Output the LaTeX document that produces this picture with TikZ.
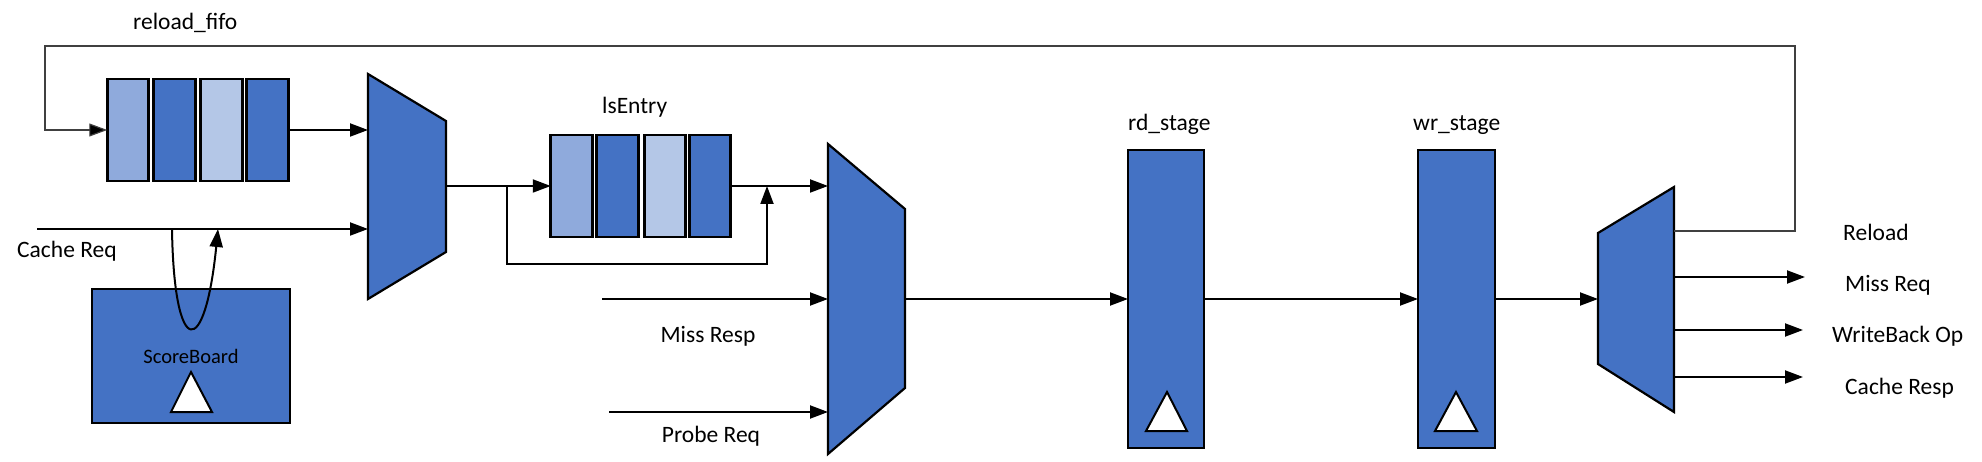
\documentclass[tikz,border=0pt]{standalone}
\usepackage{fontspec}
\setmainfont{Carlito}
\usetikzlibrary{arrows.meta}
\definecolor{dblue}{HTML}{4472C4}
\definecolor{mblue}{HTML}{8FAADC}
\definecolor{lblue}{HTML}{B4C7E7}
\begin{document}
\begin{tikzpicture}[x=1pt,y=-1pt,
  cell/.style={draw=black, line width=2.6pt, minimum width=41.5pt, minimum height=102pt, inner sep=0pt, outer sep=0pt},
  stagebox/.style={draw=black, fill=dblue, line width=2pt, inner sep=0pt, outer sep=0pt},
  wire/.style={draw=black, line width=2pt, -{Triangle[length=18pt,width=13pt]}},
  plainwire/.style={draw=black, line width=2pt},
  fbwire/.style={draw=black!75, line width=1.2pt, -{Triangle[length=18pt,width=13pt,fill=black]}},
  lbl/.style={font=\fontsize{23.5}{28}\selectfont, inner sep=0pt, anchor=base west},
  smalllbl/.style={font=\fontsize{20.5}{24}\selectfont, inner sep=0pt, anchor=base},
  muxshape/.style={fill=dblue, draw=black, line width=2.2pt, line join=miter},
  clk/.style={fill=white, draw=black, line width=2pt, line join=miter}]
\useasboundingbox (0,0) rectangle (1982,462);

% reload fifo cells
\node[cell, fill=mblue] (f1) at (128,130) {};
\node[cell, fill=dblue] (f2) at (174.5,130) {};
\node[cell, fill=lblue] (f3) at (221.5,130) {};
\node[cell, fill=dblue] (f4) at (267.5,130) {};
\node[lbl] (lfifo) at (133,30) {reload\_fifo};

% lsEntry cells
\node[cell, fill=mblue] (l1) at (571.5,186) {};
\node[cell, fill=dblue] (l2) at (617.5,186) {};
\node[cell, fill=lblue] (l3) at (665,186) {};
\node[cell, fill=dblue] (l4) at (710,186) {};
\node[lbl] (lls) at (602,114) {lsEntry};

% scoreboard
\node[stagebox, line width=2.4pt, minimum width=198pt, minimum height=134pt] (sb) at (191,356) {};
\node[smalllbl] (lsb) at (191,363) {ScoreBoard};
\draw[clk] (191,372) -- (212,412) -- (171,412) -- cycle;

% stages
\node[stagebox, minimum width=76pt, minimum height=297pt] (rd) at (1166,299) {};
\node[stagebox, minimum width=77pt, minimum height=297pt] (wr) at (1456.5,299) {};
\node[lbl] (lrd) at (1128,131) {rd\_stage};
\node[lbl] (lwr) at (1413,131) {wr\_stage};
\draw[clk] (1167,392) -- (1187,431) -- (1146,431) -- cycle;
\draw[clk] (1456,392) -- (1477,431) -- (1435,431) -- cycle;

% muxes
\draw[muxshape] (368,74) -- (446,121) -- (446,252) -- (368,299) -- cycle;
\draw[muxshape] (828,144) -- (905,209) -- (905,388) -- (828,454) -- cycle;
\draw[muxshape] (1598,233) -- (1674,187) -- (1674,412) -- (1598,364) -- cycle;

% port coordinates
\coordinate (m1a) at (368,130);
\coordinate (m1b) at (368,229);
\coordinate (m1o) at (446,186);
\coordinate (m2a) at (828,186);
\coordinate (m2b) at (828,299);
\coordinate (m2c) at (828,412);
\coordinate (m2o) at (905,299);
\coordinate (m3i) at (1598,299);
\coordinate (m3r) at (1674,231);
\coordinate (m3a) at (1674,277);
\coordinate (m3b) at (1674,330);
\coordinate (m3c) at (1674,377);
\coordinate (crin) at (37,229);
\coordinate (crtap) at (172,229);
\coordinate (crret) at (218,229);
\coordinate (mrin) at (602,299);
\coordinate (prin) at (609,412);
\coordinate (br) at (507,186);
\coordinate (join) at (767,186);
\coordinate (oa) at (1805,277);
\coordinate (ob) at (1803,330);
\coordinate (oc) at (1803,377);
\coordinate (fbr) at (1795,231);
\coordinate (fbtr) at (1795,46);
\coordinate (fbtl) at (45,46);
\coordinate (fbl) at (45,130);

% connectors
\draw[wire] (f4.east) -- (m1a);
\draw[wire] (crin) -- (m1b);
\draw[wire] (crtap) .. controls (174,360) and (205,360) .. (crret);
\draw[wire] (m1o) -- (l1.west);
\draw[wire] (br) -- (br |- 0,264) -- (join |- 0,264) -- (join);
\draw[wire] (l4.east) -- (m2a);
\draw[wire] (mrin) -- (m2b);
\draw[wire] (prin) -- (m2c);
\draw[wire] (m2o) -- (rd.west);
\draw[wire] (rd.east) -- (wr.west);
\draw[wire] (wr.east) -- (m3i);
\draw[wire] (m3a) -- (oa);
\draw[wire] (m3b) -- (ob);
\draw[wire] (m3c) -- (oc);
\draw[fbwire] (m3r) -- (fbr) -- (fbtr) -- (fbtl) -- (fbl) -- (f1.west);

% labels
\node[lbl] (lcr) at (17,258) {Cache Req};
\node[lbl, anchor=base] (lmr) at (708,343) {Miss Resp};
\node[lbl, anchor=base] (lpr) at (711,442) {Probe Req};
\node[lbl] (lrl) at (1843,241) {Reload};
\node[lbl] (lmq) at (1845,292) {Miss Req};
\node[lbl] (lwb) at (1832,343) {WriteBack Op};
\node[lbl] (lcs) at (1845,394) {Cache Resp};
\end{tikzpicture}
\end{document}
